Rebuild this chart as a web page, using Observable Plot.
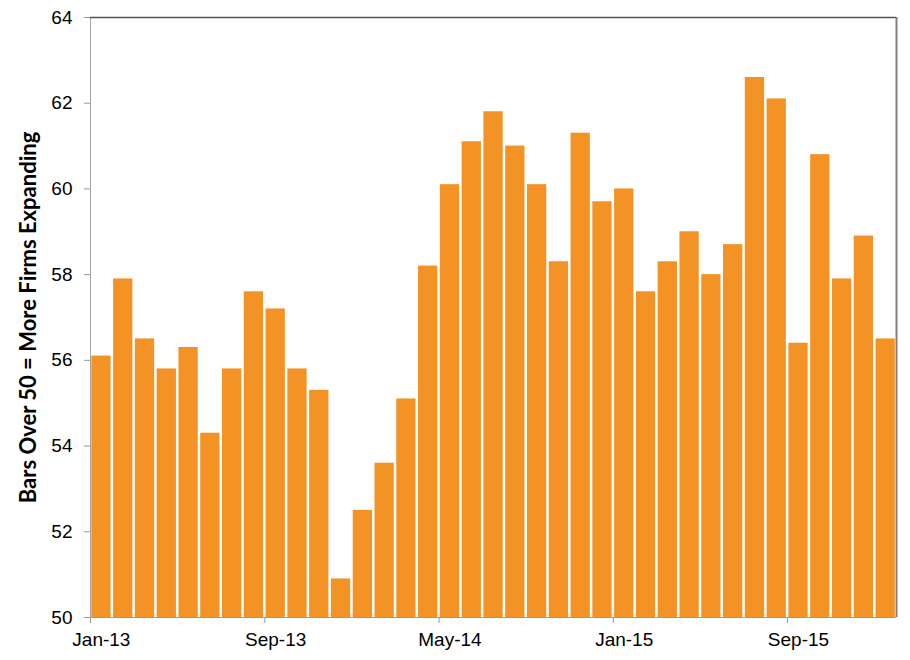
<!DOCTYPE html>
<html>
<head>
<meta charset="utf-8">
<script src="https://cdn.jsdelivr.net/npm/d3@7"></script>
<script src="https://cdn.jsdelivr.net/npm/@observablehq/plot@0.6"></script>
<style>
  html, body { margin: 0; padding: 0; background: #fff; }
</style>
</head>
<body>
<div id="chart"></div>
<script>
const months = [
  "Jan-13","Feb-13","Mar-13","Apr-13","May-13","Jun-13","Jul-13","Aug-13","Sep-13","Oct-13","Nov-13","Dec-13",
  "Jan-14","Feb-14","Mar-14","Apr-14","May-14","Jun-14","Jul-14","Aug-14","Sep-14","Oct-14","Nov-14","Dec-14",
  "Jan-15","Feb-15","Mar-15","Apr-15","May-15","Jun-15","Jul-15","Aug-15","Sep-15","Oct-15","Nov-15","Dec-15",
  "Jan-16"
];
const values = [
  56.1, 57.9, 56.5, 55.8, 56.3, 54.3, 55.8, 57.6, 57.2, 55.8, 55.3, 50.9,
  52.5, 53.6, 55.1, 58.2, 60.1, 61.1, 61.8, 61.0, 60.1, 58.3, 61.3, 59.7,
  60.0, 57.6, 58.3, 59.0, 58.0, 58.7, 62.6, 62.1, 56.4, 60.8, 57.9, 58.9,
  56.5
];
const tickLabels = ["Jan-13", "Sep-13", "May-14", "Jan-15", "Sep-15"];
const yTicks = [50, 52, 54, 56, 58, 60, 62, 64];
const yTitle = "Bars Over 50 = More Firms Expanding";

const data = months.map((m, i) => ({i, month: m, value: values[i]}));
const tickIdx = tickLabels.map(t => months.indexOf(t));
const labelPos = tickIdx.map(i => i + 0.5);
const yMin = yTicks[0], yMax = yTicks[yTicks.length - 1];

const chart = Plot.plot({
  width: 910,
  height: 660,
  marginLeft: 90,
  marginRight: 14,
  marginTop: 17,
  marginBottom: 43,
  style: {fontFamily: "'Liberation Sans', Arial, sans-serif", background: "#fff", color: "#000"},
  x: {type: "linear", domain: [0, months.length], axis: null},
  y: {domain: [yMin, yMax], axis: null},
  marks: [
    Plot.ruleY([yMin], {stroke: "#9a9a9a"}),
    Plot.ruleX([0], {stroke: "#a6a6a6"}),
    Plot.rectY(data, {
      x1: "i", x2: d => d.i + 1, y1: d => yMin, y2: "value",
      fill: "#F39325", insetLeft: 1.3, insetRight: 1.2
    }),
    Plot.ruleY([yMax], {stroke: "#555", strokeWidth: 1.5}),
    Plot.ruleX([months.length], {stroke: "#808080", strokeWidth: 2}),
    Plot.axisX(tickIdx, {
      tickFormat: () => "", tickSize: 6, stroke: "#999", label: null
    }),
    Plot.axisX(labelPos, {
      tickFormat: v => months[Math.round(v - 0.5)], tickSize: 0, tickPadding: 15,
      fontSize: 19, fill: "#000", label: null
    }),
    Plot.axisY(yTicks, {
      tickSize: 6, tickPadding: 12, fontSize: 19,
      stroke: "#999", fill: "#000", label: null
    }),
    Plot.text([yTitle], {
      text: d => d, frameAnchor: "left", textAnchor: "middle", dx: -62, rotate: -90,
      fontSize: 22, fontWeight: "bold", fontFamily: "Lato, 'Open Sans', sans-serif", fill: "#000"
    })
  ]
});
document.getElementById("chart").appendChild(chart);
</script>
</body>
</html>
